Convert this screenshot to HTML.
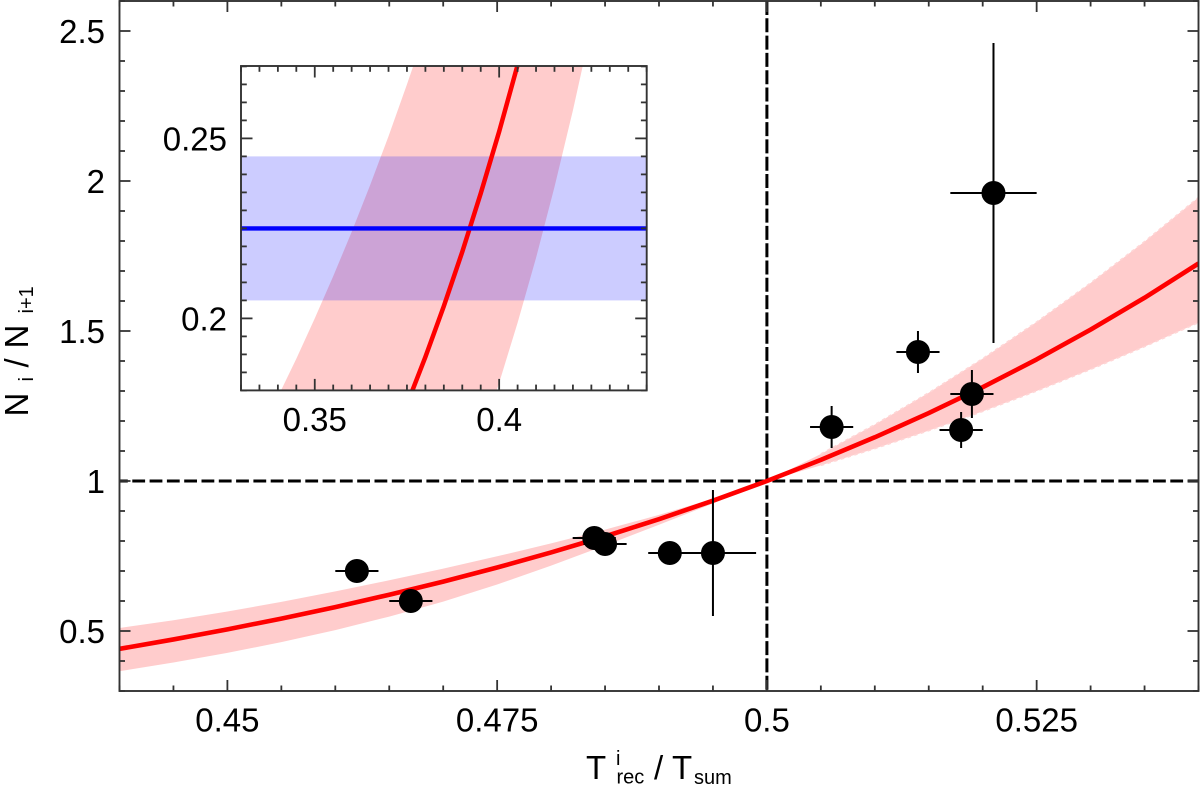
<!DOCTYPE html>
<html lang="en">
<head>
<meta charset="utf-8">
<title>Ni / Ni+1 versus Trec / Tsum</title>
<style>
html,body{margin:0;padding:0;background:#fff;width:1200px;height:787px;overflow:hidden}
svg{display:block}
text{font-family:"Liberation Sans",Arial,sans-serif;fill:#000}
</style>
</head>
<body>
<svg id="chart" xmlns="http://www.w3.org/2000/svg" width="1200" height="787" viewBox="0 0 1200 787">
<defs>
<clipPath id="main-clip"><rect x="119.5" y="1" width="1079" height="690"></rect></clipPath>
<clipPath id="inset-clip"><rect x="241" y="66" width="405.7" height="324.4"></rect></clipPath>
</defs>
<g id="main-plot"></g>
<g id="inset-plot"></g>
<g>
<text x="586" y="779" font-size="33">T</text>
<text x="616" y="765" font-size="20">i</text>
<text x="616.5" y="783.5" font-size="20">rec</text>
<text x="654" y="779" font-size="33">/</text>
<text x="672" y="779" font-size="33">T</text>
<text x="694" y="784" font-size="20">sum</text>
</g>
<g>
<text transform="translate(28,416.5) rotate(-90)" font-size="33">N</text>
<text transform="translate(33,381.5) rotate(-90)" font-size="20">i</text>
<text transform="translate(28,367.5) rotate(-90)" font-size="33">/</text>
<text transform="translate(28,348.5) rotate(-90)" font-size="33">N</text>
<text transform="translate(33,313.5) rotate(-90)" font-size="20">i+1</text>
</g>
</svg>
<script>
// Main panel data
const fitX = [0.44,0.445,0.45,0.455,0.46,0.465,0.47,0.475,0.48,0.485,0.49,0.495,0.5,0.505,0.51,0.515,0.52,0.525,0.53,0.535,0.54];
const fitY = [0.4405,0.4719,0.5055,0.5414,0.5797,0.6208,0.6646,0.7116,0.7618,0.8154,0.8728,0.9343,1,1.0703,1.1457,1.2264,1.3127,1.4053,1.5047,1.6108,1.725];
const bandUpper = [0.51,0.536,0.565,0.597,0.632,0.669,0.708,0.749,0.792,0.838,0.887,0.941,1,1.09,1.188,1.294,1.408,1.53,1.66,1.798,1.945];
const bandLower = [0.366,0.395,0.427,0.463,0.503,0.548,0.598,0.655,0.718,0.785,0.854,0.925,1,1.052,1.108,1.168,1.232,1.3,1.372,1.448,1.528];
const pointX = [0.462,0.467,0.484,0.485,0.491,0.495,0.506,0.514,0.518,0.519,0.521];
const pointY = [0.7,0.6,0.81,0.79,0.76,0.76,1.18,1.43,1.17,1.29,1.96];
const pointXErr = [0.002,0.002,0.002,0.002,0.002,0.004,0.002,0.002,0.002,0.002,0.004];
const pointYErr = [0.03,0.03,0.03,0.03,0.03,0.21,0.07,0.07,0.06,0.08,0.5];
const xTickValues = [0.45,0.475,0.5,0.525];
const xTickLabels = ['0.45','0.475','0.5','0.525'];
const yTickValues = [0.5,1,1.5,2,2.5];
const yTickLabels = ['0.5','1','1.5','2','2.5'];
const refX = [0.5];
const refY = [1];

// Inset panel data
const insetFitX = [0.37,0.375,0.38,0.385,0.39,0.395,0.4,0.405,0.41];
const insetFitY = [0.1637,0.1761,0.1893,0.2034,0.2185,0.2347,0.2519,0.2704,0.2901];
const insetUpperX = [0.335,0.34,0.345,0.35,0.355,0.36,0.365,0.37,0.375,0.38];
const insetUpperY = [0.1682,0.1782,0.1888,0.2,0.2117,0.224,0.237,0.2506,0.265,0.28];
const insetLowerX = [0.395,0.4,0.405,0.41,0.415,0.42,0.425];
const insetLowerY = [0.1668,0.1821,0.1988,0.2168,0.2365,0.2578,0.2809];
const insetBlueCentre = [0.225];
const insetBlueLow = [0.205];
const insetBlueHigh = [0.245];
const insetXTickValues = [0.35,0.4];
const insetXTickLabels = ['0.35','0.4'];
const insetYTickValues = [0.2,0.25];
const insetYTickLabels = ['0.2','0.25'];

const NS = 'http://www.w3.org/2000/svg';
const mainPlot = document.getElementById('main-plot');
const insetPlot = document.getElementById('inset-plot');

const mx = v => 119.5 + (v - 0.44) * 10790;
const my = v => 481 - (v - 1) * 300;
const ix = v => 241 + (v - 0.33) * 3688;
const iy = v => 390.4 - (v - 0.18) * 3600;

function make(parent, tag, attrs, text) {
  const el = document.createElementNS(NS, tag);
  for (const k in attrs) el.setAttribute(k, attrs[k]);
  if (text !== undefined) el.textContent = text;
  parent.appendChild(el);
  return el;
}
function pathFrom(xs, ys, fx, fy) {
  return xs.map((x, i) => (i ? 'L' : 'M') + fx(x).toFixed(2) + ' ' + fy(ys[i]).toFixed(2)).join(' ');
}

/* ---------- main panel ---------- */
const mainClip = make(mainPlot, 'g', {'clip-path': 'url(#main-clip)'});



const hRef = make(mainClip, 'line', {x1: mx(0.44), x2: mx(0.54), y1: my(refY[0]), y2: my(refY[0]), stroke: '#000', 'stroke-width': 3, 'stroke-dasharray': '12.8 4.5', 'stroke-dashoffset': 4.5});



const vRef = make(mainClip, 'line', {x1: mx(refX[0]), x2: mx(refX[0]), y1: my(2.6), y2: my(0.3), stroke: '#000', 'stroke-width': 3, 'stroke-dasharray': '14 3.3'});



const bandD = pathFrom(fitX, bandUpper, mx, my) + ' ' +
  pathFrom(fitX.slice().reverse(), bandLower.slice().reverse(), mx, my).replace('M', 'L') + ' Z';
const band = make(mainClip, 'path', {d: bandD, fill: '#ff0000', 'fill-opacity': 0.2});



// Stair-stepped pale fringe on the right-hand part of the band edges
[bandUpper, bandLower].forEach(edge => {
  const fringe = make(mainClip, 'path', {d: pathFrom(fitX.slice(13), edge.slice(13), mx, my), fill: 'none', stroke: '#ffd6d6', 'stroke-width': 1.6, 'stroke-dasharray': '3.5 3.5'});
  
  
});

const fit = make(mainClip, 'path', {d: pathFrom(fitX, fitY, mx, my), fill: 'none', stroke: '#ff0000', 'stroke-width': 4.6, 'stroke-linejoin': 'round'});



pointX.forEach((x, i) => {
  const g = make(mainClip, 'g', {});
  
  
  make(g, 'line', {x1: mx(x - pointXErr[i]), x2: mx(x + pointXErr[i]), y1: my(pointY[i]), y2: my(pointY[i]), stroke: '#000', 'stroke-width': 2});
  make(g, 'line', {x1: mx(x), x2: mx(x), y1: my(pointY[i] - pointYErr[i]), y2: my(pointY[i] + pointYErr[i]), stroke: '#000', 'stroke-width': 2});
  make(g, 'circle', {cx: mx(x), cy: my(pointY[i]), r: 12, fill: '#000'});
});

const mainTicks = make(mainPlot, 'g', {stroke: '#333', 'stroke-width': 1.8});


for (let i = 0; i <= 20; i++) {
  const v = 0.44 + 0.005 * i;
  const len = i % 5 === 2 ? 11 : 5.5;
  make(mainTicks, 'line', {x1: mx(v), x2: mx(v), y1: 691, y2: 691 - len});
  make(mainTicks, 'line', {x1: mx(v), x2: mx(v), y1: 1, y2: 1 + len});
}
for (let i = 0; i <= 23; i++) {
  const v = 0.3 + 0.1 * i;
  const len = i % 5 === 2 ? 11 : 5.5;
  make(mainTicks, 'line', {x1: 119.5, x2: 119.5 + len, y1: my(v), y2: my(v)});
  make(mainTicks, 'line', {x1: 1198.5, x2: 1198.5 - len, y1: my(v), y2: my(v)});
}
const mainFrame = make(mainPlot, 'rect', {x: 119.5, y: 1, width: 1079, height: 690, fill: 'none', stroke: '#333', 'stroke-width': 1.9});



xTickValues.forEach((v, i) => {
  const t = make(mainPlot, 'text', {x: mx(v), y: 731.5, 'font-size': 33, 'text-anchor': 'middle'}, xTickLabels[i]);
  
  
});
yTickValues.forEach((v, i) => {
  const t = make(mainPlot, 'text', {x: 105, y: my(v) + 12, 'font-size': 33, 'text-anchor': 'end'}, yTickLabels[i]);
  
  
});

/* ---------- inset panel ---------- */
const insetBg = make(insetPlot, 'rect', {x: 241, y: 66, width: 405.7, height: 324.4, fill: '#fff'});



const insetClip = make(insetPlot, 'g', {'clip-path': 'url(#inset-clip)'});



const insetBandD = pathFrom(insetUpperX, insetUpperY, ix, iy) + ' ' +
  pathFrom(insetLowerX.slice().reverse(), insetLowerY.slice().reverse(), ix, iy).replace('M', 'L') + ' Z';
const insetBand = make(insetClip, 'path', {d: insetBandD, fill: '#ff0000', 'fill-opacity': 0.2});



const blueBand = make(insetClip, 'rect', {x: 241, y: iy(insetBlueHigh[0]), width: 405.7, height: iy(insetBlueLow[0]) - iy(insetBlueHigh[0]), fill: '#0000ff', 'fill-opacity': 0.2});



const insetFit = make(insetClip, 'path', {d: pathFrom(insetFitX, insetFitY, ix, iy), fill: 'none', stroke: '#ff0000', 'stroke-width': 4.5, 'stroke-linejoin': 'round'});



const blueLine = make(insetClip, 'line', {x1: 241, x2: 646.7, y1: iy(insetBlueCentre[0]), y2: iy(insetBlueCentre[0]), stroke: '#0000ff', 'stroke-width': 4.4});



const insetTicks = make(insetPlot, 'g', {stroke: '#333', 'stroke-width': 1.8});


for (let i = 0; i <= 22; i++) {
  const v = 0.33 + 0.005 * i;
  const len = (i + 6) % 10 === 0 ? 11.5 : 5.8;
  make(insetTicks, 'line', {x1: ix(v), x2: ix(v), y1: 390.4, y2: 390.4 - len});
  make(insetTicks, 'line', {x1: ix(v), x2: ix(v), y1: 66, y2: 66 + len});
}
for (let i = 0; i <= 18; i++) {
  const v = 0.18 + 0.005 * i;
  const len = (i + 6) % 10 === 0 ? 11.5 : 5.8;
  make(insetTicks, 'line', {x1: 241, x2: 241 + len, y1: iy(v), y2: iy(v)});
  make(insetTicks, 'line', {x1: 646.7, x2: 646.7 - len, y1: iy(v), y2: iy(v)});
}
const insetFrame = make(insetPlot, 'rect', {x: 241, y: 66, width: 405.7, height: 324.4, fill: 'none', stroke: '#333', 'stroke-width': 1.9});



insetXTickValues.forEach((v, i) => {
  const t = make(insetPlot, 'text', {x: ix(v), y: 431, 'font-size': 33, 'text-anchor': 'middle'}, insetXTickLabels[i]);
  
  
});
insetYTickValues.forEach((v, i) => {
  const t = make(insetPlot, 'text', {x: 227, y: iy(v) + 12, 'font-size': 33, 'text-anchor': 'end'}, insetYTickLabels[i]);
  
  
});
</script>
</body>
</html>
